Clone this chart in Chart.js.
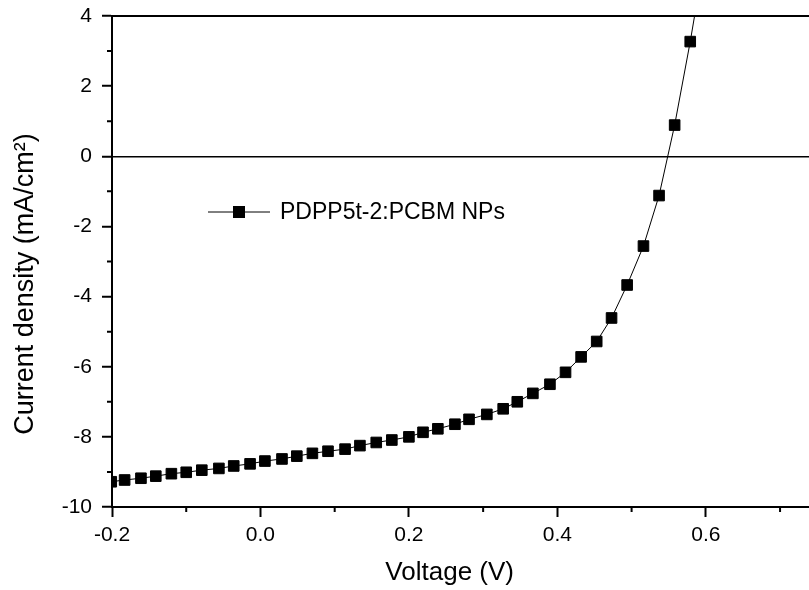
<!DOCTYPE html>
<html>
<head>
<meta charset="utf-8">
<script src="https://cdn.jsdelivr.net/npm/chart.js@4/dist/chart.umd.min.js"></script>
<style>
  html, body { margin: 0; padding: 0; background: #fff; }
  #wrap { width: 809px; height: 590px; }
</style>
</head>
<body>
<div id="wrap"><canvas id="jvChart" width="809" height="590"></canvas></div>
<script>
// J-V curve, values
const voltage = [
  -0.201, -0.183, -0.161, -0.141, -0.120, -0.100, -0.079, -0.056, -0.036, -0.014,
   0.006,  0.029,  0.049,  0.070,  0.091,  0.114,  0.134,  0.156,  0.177,  0.200,
   0.219,  0.239,  0.262,  0.281,  0.305,  0.327,  0.346,  0.367,  0.390,  0.411,
   0.432,  0.453,  0.473,  0.494,  0.516,  0.537,  0.558,  0.579,  0.600
];
const currentDensity = [
  -9.28, -9.23, -9.18, -9.12, -9.05, -9.01, -8.95, -8.90, -8.83, -8.77,
  -8.69, -8.63, -8.55, -8.47, -8.41, -8.35, -8.25, -8.16, -8.09, -8.00,
  -7.87, -7.77, -7.64, -7.50, -7.36, -7.20, -7.00, -6.76, -6.50, -6.16,
  -5.72, -5.28, -4.61, -3.67, -2.56, -1.12,  0.89,  3.27,  5.90
];
const xMajorTicks = [-0.2, 0.0, 0.2, 0.4, 0.6];
const xMinorTicks = [-0.1, 0.1, 0.3, 0.5, 0.7];
const yMajorTicks = [-10, -8, -6, -4, -2, 0, 2, 4];
const yMinorTicks = [-9, -7, -5, -3, -1, 1, 3];
const seriesLabel = 'PDPP5t-2:PCBM NPs';

const FONT = 'Arial, "Liberation Sans", sans-serif';

// minor ticks, top frame line and the in-plot legend
const frameExtras = {
  id: 'frameExtras',
  afterDraw(chart) {
    const ctx = chart.ctx;
    const area = chart.chartArea;
    const xs = chart.scales.x;
    const ys = chart.scales.y;
    ctx.save();
    ctx.strokeStyle = '#000';
    ctx.lineWidth = 2;
    ctx.beginPath();
    xMinorTicks.forEach(v => {
      const px = xs.getPixelForValue(v);
      if (px <= area.right) {
        ctx.moveTo(px, area.bottom);
        ctx.lineTo(px, area.bottom + 5);
      }
    });
    yMinorTicks.forEach(v => {
      const py = ys.getPixelForValue(v);
      ctx.moveTo(area.left, py);
      ctx.lineTo(area.left - 5, py);
    });
    ctx.stroke();

    // top border
    ctx.beginPath();
    ctx.moveTo(area.left - 1, area.top);
    ctx.lineTo(area.right, area.top);
    ctx.stroke();

    // legend
    const ly = 212;
    const lx = 208;
    ctx.lineWidth = 1;
    ctx.beginPath();
    ctx.moveTo(lx, ly);
    ctx.lineTo(lx + 62, ly);
    ctx.stroke();
    ctx.fillStyle = '#000';
    ctx.fillRect(lx + 31 - 6, ly - 6, 12, 12);
    ctx.font = '23px ' + FONT;
    ctx.textBaseline = 'middle';
    ctx.textAlign = 'left';
    ctx.fillText(seriesLabel, lx + 72, ly + 1);
    ctx.restore();
  }
};

new Chart(document.getElementById('jvChart'), {
  type: 'line',
  data: {
    datasets: [{
      label: seriesLabel,
      data: voltage.map((v, i) => ({ x: v, y: currentDensity[i] })),
      borderColor: '#000',
      borderWidth: 1,
      backgroundColor: '#000',
      pointStyle: 'rect',
      pointRadius: 7.5,
      pointBorderWidth: 1,
      pointBorderColor: '#000',
      pointBackgroundColor: '#000',
      tension: 0
    }]
  },
  options: {
    responsive: false,
    animation: false,
    layout: { autoPadding: false, padding: { top: 16, left: 0, right: 0, bottom: 0 } },
    plugins: {
      legend: { display: false },
      tooltip: { enabled: false }
    },
    scales: {
      x: {
        type: 'linear',
        min: -0.2,
        max: 0.739,
        afterBuildTicks: s => { s.ticks = xMajorTicks.map(v => ({ value: v })); },
        afterFit: s => { s.height = 83; s.paddingLeft = 0; s.paddingRight = 0; },
        border: { color: '#000', width: 2 },
        grid: { drawOnChartArea: false, tickColor: '#000', tickLength: 10, tickWidth: 2 },
        ticks: {
          color: '#000',
          font: { family: FONT, size: 21 },
          padding: 6,
          maxRotation: 0,
          callback: v => v.toFixed(1)
        },
        title: {
          display: true,
          // trailing spaces nudge the centred title left, as in the reference
          text: 'Voltage (V)   ',
          color: '#000',
          font: { family: FONT, size: 26 },
          padding: { top: 0, bottom: 2 }
        }
      },
      y: {
        type: 'linear',
        min: -10,
        max: 4,
        afterBuildTicks: s => { s.ticks = yMajorTicks.map(v => ({ value: v })); },
        afterFit: s => { s.width = 112; s.paddingTop = 0; s.paddingBottom = 0; },
        border: { color: '#000', width: 2 },
        grid: {
          color: c => (c.tick && c.tick.value === 0 ? '#000' : 'rgba(0,0,0,0)'),
          lineWidth: 1.5,
          tickColor: '#000',
          tickLength: 10,
          tickWidth: 2
        },
        ticks: {
          color: '#000',
          font: { family: FONT, size: 21 },
          padding: 10,
          callback: v => String(v)
        },
        title: {
          display: true,
          text: 'Current density (mA/cm²)      ',
          color: '#000',
          font: { family: FONT, size: 27 },
          padding: { top: 9, bottom: 0 }
        }
      }
    }
  },
  plugins: [frameExtras]
});
</script>
</body>
</html>
